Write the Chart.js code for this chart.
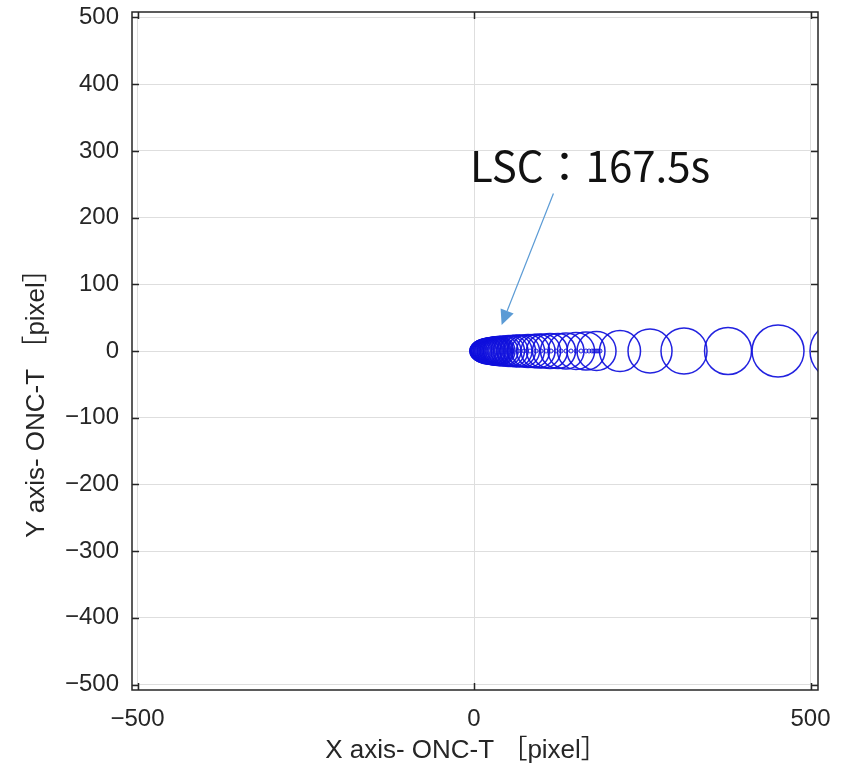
<!DOCTYPE html>
<html>
<head>
<meta charset="utf-8">
<script src="https://cdn.jsdelivr.net/npm/chart.js@4.4.1/dist/chart.umd.min.js"></script>
<style>
    html, body { margin: 0; padding: 0; background: #fff; }
</style>
</head>
<body>
<canvas id="plotOnc" width="845" height="774"></canvas>
<script>
// ---------------- DATOS ----------------
// circle centre (x) and radius, both in ONC-T pixels; all centres sit on y = 0
const circleX = [
    3.0, 4.5, 5.9, 7.4, 8.9, 10.4, 11.9, 13.4, 14.9, 16.3,
    17.8, 19.3, 20.8, 22.3, 23.8, 25.3, 26.7, 28.2, 29.7, 31.2,
    32.7, 34.2, 35.7, 37.1, 39.4, 43.1, 47.5, 52.0, 57.2, 62.4,
    67.6, 73.5, 80.2, 87.7, 95.1, 103.3, 112.9, 124.8, 136.7, 151.6,
    166.4, 182.0, 216.9, 261.5, 312.0, 377.4, 451.7, 542.3
];
const circleR = [
    7.4, 9.7, 11.9, 13.4, 14.9, 15.6, 16.3, 17.1, 17.8, 17.8,
    18.6, 18.6, 19.3, 19.3, 19.3, 20.1, 20.1, 20.1, 20.8, 20.8,
    20.8, 20.8, 21.5, 21.5, 21.5, 22.3, 22.3, 23.0, 23.0, 23.8,
    23.8, 23.8, 24.5, 24.5, 25.3, 25.3, 26.0, 26.0, 26.7, 27.5,
    28.2, 29.0, 30.5, 32.7, 34.2, 34.9, 38.6, 43.1
];
// small markers along the track
const centerX = [
    56.5, 65.4, 74.3, 83.2, 92.1, 99.6, 107.0, 114.4, 121.8, 129.3,
    136.7, 144.1, 151.6, 159.0, 166.4, 170.9, 175.3, 178.3, 181.3, 184.3, 187.2
];

const xTicks = [-500, 0, 500];
const yTicks = [-500, -400, -300, -200, -100, 0, 100, 200, 300, 400, 500];
const xRange = [-508.2, 511.1];
const yRange = [-508.2, 508.2];

const xTitle = "X axis- ONC-T ［pixel］";
const yTitle = "Y axis- ONC-T ［pixel］";

// nota con flecha
const noteText = "LSC：167.5s";
const notePos = [-6, 253];
const arrowFrom = [118, 236];
const arrowTo = [41, 39];

const TEXT_COLOR = "#262626";
const TRACK_COLOR = "rgba(15, 15, 220, 0.92)";

function fmtTick(v) {
    return v < 0 ? "\u2212" + Math.abs(v) : String(v);
}

// radius given in data units -> pixels through the x scale
function radioPx(ctx, lista) {
    const x = ctx.chart.scales.x;
    const r = lista[ctx.dataIndex];
    return Math.abs(x.getPixelForValue(r) - x.getPixelForValue(0));
}

// ---------------- MARCO, TITULOS Y NOTA ----------------
const marcoPlugin = {
    id: "marco",
    afterDatasetsDraw(chart) {
        const { ctx, chartArea: a, scales: { x, y } } = chart;
        ctx.save();
        ctx.strokeStyle = TEXT_COLOR;
        ctx.lineWidth = 1.5;
        ctx.strokeRect(a.left, a.top, a.right - a.left, a.bottom - a.top);

        const t = 7;
        ctx.beginPath();
        for (const v of xTicks) {
            const px = Math.round(x.getPixelForValue(v)) + 0.5;
            ctx.moveTo(px, a.bottom); ctx.lineTo(px, a.bottom - t);
            ctx.moveTo(px, a.top); ctx.lineTo(px, a.top + t);
        }
        for (const v of yTicks) {
            const py = Math.round(y.getPixelForValue(v)) + 0.5;
            ctx.moveTo(a.left, py); ctx.lineTo(a.left + t, py);
            ctx.moveTo(a.right, py); ctx.lineTo(a.right - t, py);
        }
        ctx.stroke();
        ctx.restore();
    },
    afterDraw(chart) {
        const { ctx, chartArea: a, scales: { x, y } } = chart;
        ctx.save();

        // axis titles
        ctx.fillStyle = TEXT_COLOR;
        ctx.font = "26px 'Liberation Sans', 'Noto Sans CJK JP', sans-serif";
        ctx.textAlign = "center";
        ctx.textBaseline = "middle";
        ctx.fillText(xTitle, (a.left + a.right) / 2 - 9, 751);
        ctx.translate(37, (a.top + a.bottom) / 2 + 46);
        ctx.rotate(-Math.PI / 2);
        ctx.fillText(yTitle, 0, 0);
        ctx.setTransform(1, 0, 0, 1, 0, 0);

        // note
        ctx.fillStyle = "#111";
        ctx.font = "42px 'Noto Sans CJK JP', sans-serif";
        ctx.textAlign = "left";
        ctx.textBaseline = "alphabetic";
        ctx.fillText(noteText, x.getPixelForValue(notePos[0]), y.getPixelForValue(notePos[1]));

        // arrow
        const x0 = x.getPixelForValue(arrowFrom[0]);
        const y0 = y.getPixelForValue(arrowFrom[1]);
        const x1 = x.getPixelForValue(arrowTo[0]);
        const y1 = y.getPixelForValue(arrowTo[1]);
        const ang = Math.atan2(y1 - y0, x1 - x0);
        const largo = 15, ancho = 7;
        const bx = x1 - largo * Math.cos(ang);
        const by = y1 - largo * Math.sin(ang);
        ctx.strokeStyle = "#5b9bd5";
        ctx.fillStyle = "#5b9bd5";
        ctx.lineWidth = 1.2;
        ctx.beginPath();
        ctx.moveTo(x0, y0);
        ctx.lineTo(bx, by);
        ctx.stroke();
        ctx.beginPath();
        ctx.moveTo(x1, y1);
        ctx.lineTo(bx + ancho * Math.sin(ang), by - ancho * Math.cos(ang));
        ctx.lineTo(bx - ancho * Math.sin(ang), by + ancho * Math.cos(ang));
        ctx.closePath();
        ctx.fill();

        ctx.restore();
    },
};

// ---------------- GRAFICO ----------------
function renderTrayectoria() {
    const canvas = document.getElementById("plotOnc");

    const tickFont = { family: "'Liberation Sans', Arial, sans-serif", size: 24 };

    new Chart(canvas, {
        type: "scatter",
        data: {
            datasets: [
                {
                    label: "track",
                    data: circleX.map((v) => ({ x: v, y: 0 })),
                    pointStyle: "circle",
                    pointRadius: (ctx) => radioPx(ctx, circleR),
                    pointHoverRadius: (ctx) => radioPx(ctx, circleR),
                    borderColor: TRACK_COLOR,
                    backgroundColor: "rgba(0,0,0,0)",
                    borderWidth: 1.5,
                    showLine: false,
                },
                {
                    label: "centre",
                    data: centerX.map((v) => ({ x: v, y: 0 })),
                    pointStyle: "circle",
                    pointRadius: 2,
                    pointHoverRadius: 2,
                    borderColor: TRACK_COLOR,
                    backgroundColor: "rgba(0,0,0,0)",
                    borderWidth: 1,
                    showLine: false,
                },
            ],
        },
        options: {
            responsive: false,
            animation: false,
            devicePixelRatio: 1,
            layout: { padding: { top: 12, right: 27, left: 0, bottom: 0 } },
            plugins: {
                legend: { display: false },
                tooltip: { enabled: false },
            },
            scales: {
                x: {
                    type: "linear",
                    min: xRange[0],
                    max: xRange[1],
                    afterBuildTicks: (s) => { s.ticks = xTicks.map((v) => ({ value: v })); },
                    afterFit: (s) => {
                        s.height = 84;
                        s.paddingLeft = 0;
                        s.paddingRight = 0;
                    },
                    grid: { color: "#dedede", lineWidth: 1, drawTicks: false },
                    border: { display: false },
                    ticks: {
                        color: TEXT_COLOR,
                        font: tickFont,
                        padding: 15,
                        maxRotation: 0,
                        callback: fmtTick,
                    },
                },
                y: {
                    type: "linear",
                    min: yRange[0],
                    max: yRange[1],
                    afterBuildTicks: (s) => { s.ticks = yTicks.map((v) => ({ value: v })); },
                    afterFit: (s) => {
                        s.width = 132;
                        s.paddingTop = 0;
                        s.paddingBottom = 0;
                    },
                    grid: { color: "#dedede", lineWidth: 1, drawTicks: false },
                    border: { display: false },
                    ticks: {
                        color: TEXT_COLOR,
                        font: tickFont,
                        padding: 13,
                        callback: fmtTick,
                    },
                },
            },
        },
        plugins: [marcoPlugin],
    });
}

document.addEventListener("DOMContentLoaded", renderTrayectoria);
</script>
</body>
</html>
